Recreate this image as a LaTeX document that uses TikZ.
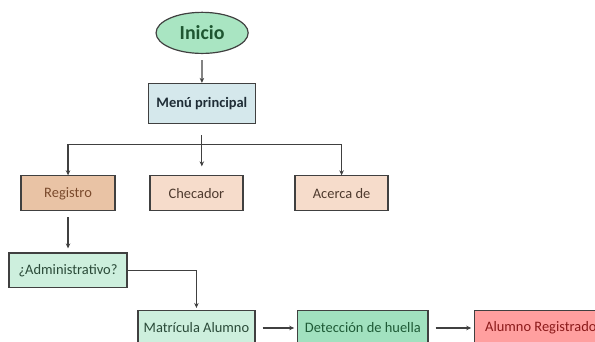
\documentclass[tikz,border=0pt]{standalone}
\usepackage{fontspec}
\setmainfont{Carlito}
\usepackage{xcolor}
\usetikzlibrary{positioning, arrows.meta, shapes.geometric, calc}

\definecolor{inicioFill}{HTML}{A9E5C2}
\definecolor{inicioText}{HTML}{1E5631}
\definecolor{menuFill}{HTML}{D5E8EC}
\definecolor{menuText}{HTML}{1F2D36}
\definecolor{regFill}{HTML}{E9C3A5}
\definecolor{regText}{HTML}{7A4A2C}
\definecolor{optFill}{HTML}{F6DCCB}
\definecolor{optText}{HTML}{4E3A2E}
\definecolor{adminFill}{HTML}{CDEFDD}
\definecolor{adminText}{HTML}{2A4A38}
\definecolor{huellaFill}{HTML}{A1E1BF}
\definecolor{huellaText}{HTML}{1E5A36}
\definecolor{okFill}{HTML}{FF9F9F}
\definecolor{okText}{HTML}{8B1A1A}
\definecolor{lineGray}{HTML}{404040}

\tikzset{
  box/.style={draw=lineGray, line width=1.2pt, minimum height=1.23cm, inner sep=2pt,
    font=\fontsize{14.5}{16}\selectfont},
  flow/.style={draw=lineGray, line width=1.2pt, -{Stealth[length=5pt, width=4.5pt]}},
}

\begin{document}
\begin{tikzpicture}
  \useasboundingbox (0,0) rectangle (20.99,12.06);
  \clip (0,0) rectangle (20.99,12.06);

  % Top: start and main menu
  \node[ellipse, draw=lineGray, line width=1.2pt, fill=inicioFill, text=inicioText,
    minimum width=3.25cm, minimum height=1.45cm, inner sep=0pt,
    font=\fontsize{20}{22}\selectfont\bfseries] (inicio) at (7.13,10.90) {Inicio};
  \node[box, fill=menuFill, text=menuText, minimum width=3.77cm, minimum height=1.41cm,
    font=\fontsize{14.5}{16}\selectfont\bfseries] (menu) at (7.12,8.41) {Menú principal};

  % Middle: menu options
  \node[box, fill=regFill, text=regText, minimum width=3.32cm] (registro) at (2.40,5.24) {Registro};
  \node[box, fill=optFill, text=optText, minimum width=3.28cm] (checador) at (6.93,5.24) {Checador};
  \node[box, fill=optFill, text=optText, minimum width=3.28cm] (acerca) at (12.05,5.24) {Acerca de};

  % Bottom: registration path
  \node[box, fill=adminFill, text=adminText, minimum width=4.16cm] (admin) at (2.40,2.52) {¿Administrativo?};
  \node[box, fill=adminFill, text=adminText, minimum width=4.13cm] (matricula) at (6.93,0.49) {Matrícula Alumno};
  \node[box, fill=huellaFill, text=huellaText, minimum width=4.59cm] (deteccion) at (12.80,0.49) {Detección de huella};
  \node[box, fill=okFill, text=okText, minimum width=4.66cm] (alumno) at (19.08,0.49) {Alumno Registrado};

  % Connectors
  \coordinate (branch) at ($(menu.south)+(0,-0.71)$);
  \draw[flow, shorten <=6bp] (inicio) -- (menu);
  \draw[flow, shorten <=11bp, shorten >=9bp] (menu) -- (menu |- checador.north);
  \draw[flow] (branch) -| (registro);
  \draw[flow] (branch) -| (acerca);
  \draw[flow, shorten <=6bp, shorten >=4bp] (registro) -- (admin);
  \draw[flow, shorten >=2bp] (admin.east) -| (matricula.north);
  \draw[flow, shorten <=7bp, shorten >=3bp] (matricula) -- (deteccion);
  \draw[flow, shorten <=7bp, shorten >=3bp] (deteccion) -- (alumno);
\end{tikzpicture}
\end{document}
